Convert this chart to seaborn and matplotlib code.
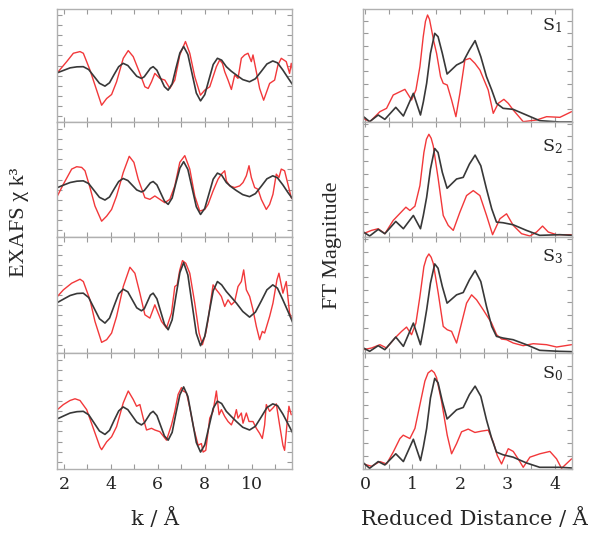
import matplotlib
matplotlib.use("Agg")
import matplotlib.pyplot as plt
from matplotlib.ticker import MultipleLocator
import seaborn as sns

# ---------------- data ----------------
samples = ["S$_1$", "S$_2$", "S$_3$", "S$_0$"]

# EXAFS chi(k)k^3, fit (black) sampled on a common k grid
k_fit = [1.72, 2.0, 2.26, 2.55, 2.82, 3.05, 3.28, 3.51, 3.745, 3.94, 4.13, 4.33, 4.52,
         4.72, 4.91, 5.10, 5.30, 5.42, 5.55, 5.68, 5.80, 5.96, 6.12, 6.28, 6.44, 6.61,
         6.77, 6.94, 7.10, 7.28, 7.46, 7.64, 7.82, 8.0, 8.18, 8.36, 8.54, 8.72, 8.92,
         9.13, 9.35, 9.62, 9.91, 10.16, 10.41, 10.65, 10.90, 11.1, 11.33, 11.55, 11.76]
chi_fit_s1 = [-0.215, -0.14, -0.07, -0.04, -0.035, -0.12, -0.325, -0.53, -0.615, -0.515, -0.275,
              -0.035, 0.065, 0.0, -0.16, -0.32, -0.385, -0.335, -0.21, -0.085, -0.035, -0.14,
              -0.385, -0.63, -0.735, -0.545, -0.085, 0.375, 0.565, 0.33, -0.245, -0.82, -1.055,
              -0.87, -0.42, 0.03, 0.215, 0.16, -0.035, -0.17, -0.285, -0.42, -0.485, -0.395,
              -0.175, 0.045, 0.135, 0.08, -0.135, -0.37, -0.585]
chi_fit_s2 = [-0.24, -0.16, -0.09, -0.05, -0.04, -0.12, -0.325, -0.53, -0.61, -0.52, -0.29,
              -0.06, 0.03, -0.03, -0.17, -0.31, -0.37, -0.33, -0.215, -0.10, -0.06, -0.16,
              -0.40, -0.64, -0.74, -0.55, -0.105, 0.34, 0.53, 0.30, -0.255, -0.81, -1.04,
              -0.86, -0.425, 0.01, 0.19, 0.13, -0.09, -0.22, -0.33, -0.45, -0.51, -0.42,
              -0.20, 0.02, 0.11, 0.05, -0.16, -0.39, -0.59]
chi_fit_s3 = [-0.23, -0.12, -0.02, 0.04, 0.05, -0.08, -0.40, -0.72, -0.85, -0.70, -0.34,
              0.03, 0.17, 0.09, -0.15, -0.39, -0.48, -0.42, -0.215, -0.01, 0.05, -0.12,
              -0.50, -0.88, -1.05, -0.75, -0.04, 0.67, 0.97, 0.60, -0.28, -1.16, -1.53,
              -1.25, -0.565, 0.12, 0.40, 0.30, 0.10, -0.07, -0.25, -0.50, -0.67, -0.52,
              -0.185, 0.15, 0.30, 0.20, -0.15, -0.50, -0.85]
chi_fit_s0 = [-0.23, -0.14, -0.06, -0.02, -0.01, -0.11, -0.35, -0.59, -0.69, -0.57, -0.285,
              0.0, 0.12, 0.04, -0.145, -0.33, -0.41, -0.35, -0.21, -0.07, -0.01, -0.135,
              -0.435, -0.735, -0.86, -0.63, -0.075, 0.48, 0.71, 0.43, -0.25, -0.93, -1.21,
              -1.0, -0.46, 0.08, 0.29, 0.22, -0.01, -0.16, -0.31, -0.48, -0.56, -0.45,
              -0.175, 0.10, 0.21, 0.16, -0.09, -0.38, -0.66]

# EXAFS experimental (red)
k_exp_s1 = [1.716, 2.113, 2.397, 2.681, 2.823, 3.106, 3.319, 3.603, 3.816, 4.028, 4.241, 4.525,
            4.738, 4.950, 5.234, 5.447, 5.589, 5.730, 5.872, 6.085, 6.298, 6.511, 6.723, 6.936,
            7.177, 7.362, 7.574, 7.816, 8.000, 8.213, 8.355, 8.496, 8.638, 8.752, 8.851, 8.993,
            9.135, 9.277, 9.418, 9.560, 9.702, 9.844, 9.986, 10.057, 10.199, 10.340, 10.511,
            10.766, 10.979, 11.121, 11.262, 11.475, 11.617, 11.688, 11.759]
chi_exp_s1 = [-0.215, 0.115, 0.365, 0.415, 0.365, -0.135, -0.585, -1.185, -0.985, -0.865, -0.485,
              0.215, 0.445, 0.265, -0.235, -0.635, -0.685, -0.485, -0.235, -0.385, -0.435, -0.685,
              -0.435, 0.315, 0.715, 0.365, -0.335, -0.885, -0.735, -0.635, -0.335, -0.035, 0.165,
              0.065, -0.185, -0.435, -0.715, -0.285, -0.385, 0.215, 0.315, 0.365, 0.115, 0.315,
              -0.185, -0.685, -1.035, -0.535, -0.435, 0.015, 0.215, 0.115, -0.235, 0.065, -0.185]
k_exp_s2 = [1.716, 1.972, 2.326, 2.539, 2.752, 2.894, 3.106, 3.319, 3.603, 3.816, 4.028, 4.241,
            4.525, 4.780, 4.979, 5.163, 5.447, 5.660, 5.872, 6.085, 6.298, 6.511, 6.723, 6.936,
            7.149, 7.362, 7.574, 7.787, 8.000, 8.142, 8.355, 8.567, 8.709, 8.851, 8.922, 9.064,
            9.277, 9.489, 9.631, 9.773, 9.887, 9.986, 10.128, 10.270, 10.411, 10.624, 10.766,
            10.908, 11.050, 11.163, 11.262, 11.404, 11.546, 11.688, 11.759]
chi_exp_s2 = [-0.49, -0.14, 0.31, 0.38, 0.36, 0.26, -0.24, -0.79, -1.24, -1.09, -0.89, -0.49,
              0.21, 0.69, 0.51, 0.01, -0.54, -0.59, -0.49, -0.59, -0.69, -0.59, -0.19, 0.51,
              0.71, 0.31, -0.49, -0.94, -0.89, -0.74, -0.34, 0.01, 0.16, 0.26, -0.04, -0.19,
              -0.24, -0.19, -0.09, 0.11, 0.41, 0.06, -0.24, -0.29, -0.59, -0.89, -0.74, -0.44,
              0.16, 0.06, 0.31, 0.26, -0.14, -0.54, -0.59]
k_exp_s3 = [1.716, 1.972, 2.326, 2.681, 2.823, 3.106, 3.319, 3.603, 3.816, 4.028, 4.241, 4.525,
            4.809, 5.021, 5.234, 5.447, 5.660, 5.872, 6.014, 6.156, 6.369, 6.582, 6.723, 6.823,
            6.936, 7.050, 7.191, 7.362, 7.574, 7.759, 7.901, 8.043, 8.142, 8.241, 8.355, 8.496,
            8.610, 8.709, 8.851, 8.993, 9.135, 9.277, 9.418, 9.560, 9.660, 9.773, 9.915, 10.057,
            10.199, 10.340, 10.454, 10.553, 10.766, 10.908, 11.078, 11.163, 11.333, 11.475,
            11.617, 11.759]
chi_exp_s3 = [-0.05, 0.15, 0.35, 0.47, 0.40, -0.15, -0.80, -1.43, -1.35, -1.15, -0.65, 0.25,
              0.83, 0.65, 0.05, -0.60, -0.70, -0.30, -0.55, -0.80, -1.00, -0.55, 0.25, 0.30,
              0.75, 1.03, 0.95, 0.65, -0.25, -1.15, -1.50, -1.15, -0.75, -0.25, 0.30, 0.15,
              0.05, -0.05, -0.35, -0.15, -0.30, -0.20, 0.25, 0.40, 0.75, 0.15, -0.05, -0.45,
              -0.95, -1.35, -1.10, -1.15, -0.65, -0.25, 0.45, 0.65, 0.05, 0.40, -0.55, -0.80]
k_exp_s0 = [1.716, 1.972, 2.255, 2.468, 2.681, 2.965, 3.248, 3.532, 3.603, 3.816, 4.028, 4.241,
            4.525, 4.738, 4.950, 5.092, 5.234, 5.376, 5.518, 5.730, 5.872, 6.085, 6.369, 6.582,
            6.723, 6.865, 7.007, 7.078, 7.220, 7.362, 7.532, 7.716, 7.858, 7.929, 8.043, 8.213,
            8.355, 8.496, 8.610, 8.709, 8.851, 8.993, 9.135, 9.277, 9.348, 9.418, 9.560, 9.631,
            9.773, 9.887, 10.057, 10.199, 10.340, 10.454, 10.553, 10.624, 10.766, 10.908,
            11.050, 11.191, 11.333, 11.404, 11.504, 11.589, 11.688]
chi_exp_s0 = [0.04, 0.19, 0.31, 0.36, 0.31, 0.04, -0.51, -1.06, -1.14, -0.91, -0.76, -0.46,
              0.24, 0.59, 0.34, 0.14, 0.19, -0.21, -0.56, -0.51, -0.56, -0.61, -0.86, -0.41,
              -0.01, 0.49, 0.69, 0.59, 0.54, 0.09, -0.51, -1.01, -0.96, -1.21, -1.16, -0.21,
              -0.01, 0.59, -0.11, 0.04, -0.16, -0.31, -0.41, -0.16, 0.04, -0.21, -0.06, -0.36,
              -0.06, -0.31, -0.31, -0.51, -0.66, -0.81, -0.41, 0.19, -0.01, 0.09, 0.21, -0.41,
              -1.01, -1.16, -0.41, 0.14, -0.11]

# FT magnitude, fit (black) on a common R grid
r_fit = [-0.03, 0.10, 0.28, 0.42, 0.65, 0.81, 1.02, 1.17, 1.23, 1.30, 1.38, 1.47, 1.54, 1.63,
         1.73, 1.93, 2.07, 2.20, 2.32, 2.44, 2.56, 2.67, 2.77, 2.91, 3.12, 3.40, 3.68, 4.10, 4.36]
ft_fit_s1 = [0.16, 0.01, 0.21, 0.08, 0.44, 0.18, 0.86, 0.21, 0.60, 1.16, 2.06, 2.66, 2.56, 2.06,
             1.44, 1.71, 1.81, 2.16, 2.44, 1.96, 1.36, 0.96, 0.56, 0.41, 0.38, 0.21, 0.04, 0.0, 0.0]
ft_fit_s2 = [0.15, 0.03, 0.23, 0.10, 0.47, 0.25, 0.65, 0.25, 0.65, 1.20, 2.05, 2.67, 2.55, 1.95,
             1.47, 1.75, 1.80, 2.20, 2.47, 2.15, 1.45, 0.85, 0.45, 0.43, 0.37, 0.20, 0.05, 0.07, 0.05]
ft_fit_s3 = [0.15, 0.05, 0.22, 0.10, 0.48, 0.20, 0.90, 0.25, 0.70, 1.30, 2.10, 2.68, 2.55, 2.00,
             1.50, 1.75, 1.82, 2.20, 2.48, 2.15, 1.40, 0.80, 0.50, 0.45, 0.40, 0.25, 0.08, 0.05, 0.04]
ft_fit_s0 = [0.18, 0.02, 0.22, 0.12, 0.45, 0.22, 0.88, 0.25, 0.65, 1.20, 2.10, 2.68, 2.55, 2.00,
             1.48, 1.75, 1.82, 2.20, 2.45, 2.15, 1.45, 0.90, 0.50, 0.42, 0.35, 0.18, 0.05, 0.05, 0.03]

# FT magnitude, experimental (red)
r_exp_s1 = [-0.035, 0.105, 0.316, 0.456, 0.596, 0.842, 0.982, 1.074, 1.158, 1.228, 1.275, 1.319,
            1.36, 1.404, 1.45, 1.509, 1.593, 1.649, 1.733, 1.825, 1.916, 2.0, 2.105, 2.211, 2.316,
            2.421, 2.596, 2.702, 2.807, 2.926, 3.018, 3.123, 3.333, 3.614, 3.825, 4.105, 4.351]
ft_exp_s1 = [0.11, 0.01, 0.31, 0.41, 0.81, 0.98, 0.66, 0.96, 1.66, 2.56, 3.02, 3.21, 3.08, 2.76,
             2.42, 2.06, 1.36, 1.16, 1.11, 0.66, 0.16, 0.86, 1.86, 1.91, 1.76, 1.56, 0.96, 0.26,
             0.56, 0.68, 0.56, 0.36, 0.01, 0.06, 0.16, 0.14, 0.31]
r_exp_s2 = [-0.035, 0.14, 0.281, 0.421, 0.596, 0.863, 0.947, 1.053, 1.158, 1.242, 1.295, 1.347,
            1.395, 1.439, 1.544, 1.649, 1.754, 1.860, 2.0, 2.140, 2.281, 2.421, 2.561, 2.688,
            2.842, 2.982, 3.123, 3.298, 3.474, 3.614, 3.740, 3.860, 4.035, 4.351]
ft_exp_s2 = [0.10, 0.20, 0.25, 0.10, 0.50, 0.90, 0.80, 0.93, 1.55, 2.55, 2.95, 3.10, 2.98, 2.75,
             1.75, 0.65, 0.35, 0.20, 0.75, 1.25, 1.40, 1.25, 0.65, 0.07, 0.55, 0.70, 0.35, 0.10,
             0.03, 0.15, 0.33, 0.15, 0.07, 0.07]
r_exp_s3 = [-0.035, 0.14, 0.316, 0.456, 0.632, 0.772, 0.877, 0.982, 1.074, 1.158, 1.242, 1.295,
            1.347, 1.395, 1.439, 1.544, 1.649, 1.733, 1.825, 1.930, 2.035, 2.140, 2.246, 2.351,
            2.491, 2.667, 2.772, 2.877, 2.982, 3.123, 3.333, 3.544, 3.825, 4.035, 4.351]
ft_exp_s3 = [0.10, 0.15, 0.25, 0.15, 0.45, 0.65, 0.78, 0.55, 0.90, 1.70, 2.60, 2.86, 2.98, 2.88,
             2.70, 1.80, 0.80, 0.70, 0.65, 0.30, 0.90, 1.50, 1.75, 1.60, 1.30, 0.90, 0.55, 0.42,
             0.40, 0.30, 0.22, 0.28, 0.25, 0.18, 0.25]
r_exp_s0 = [-0.035, 0.14, 0.316, 0.456, 0.596, 0.737, 0.807, 0.947, 1.053, 1.158, 1.263, 1.33,
            1.404, 1.46, 1.509, 1.614, 1.733, 1.825, 1.930, 2.035, 2.175, 2.316, 2.456, 2.596,
            2.702, 2.786, 2.877, 3.018, 3.123, 3.249, 3.333, 3.474, 3.684, 3.895, 4.035, 4.140,
            4.351]
ft_exp_s0 = [0.15, 0.08, 0.22, 0.15, 0.50, 0.90, 1.00, 0.90, 1.20, 1.90, 2.60, 2.84, 2.92, 2.85,
             2.70, 2.00, 1.00, 0.45, 0.75, 1.10, 1.18, 1.08, 1.12, 1.15, 0.80, 0.40, 0.15, 0.60,
             0.52, 0.25, 0.05, 0.35, 0.45, 0.52, 0.30, 0.02, 0.30]

chi_fits = [chi_fit_s1, chi_fit_s2, chi_fit_s3, chi_fit_s0]
k_exps = [k_exp_s1, k_exp_s2, k_exp_s3, k_exp_s0]
chi_exps = [chi_exp_s1, chi_exp_s2, chi_exp_s3, chi_exp_s0]
ft_fits = [ft_fit_s1, ft_fit_s2, ft_fit_s3, ft_fit_s0]
r_exps = [r_exp_s1, r_exp_s2, r_exp_s3, r_exp_s0]
ft_exps = [ft_exp_s1, ft_exp_s2, ft_exp_s3, ft_exp_s0]

# ---------------- style ----------------
sns.set_style("ticks")
plt.rcParams["font.family"] = ["DejaVu Serif", "DejaVu Sans"]
plt.rcParams["mathtext.default"] = "regular"

RED = "#f2383a"
BLACK = "#383838"
FRAME = "#b0b0b0"

fig = plt.figure(figsize=(6.01, 5.38), dpi=100)
W, H = 601, 538

# panel rows in pixels (top, bottom)
rows = [(9, 122), (122, 237), (237, 353), (353, 469)]
chi_lims = [(-1.685, 1.685), (-1.71, 1.71), (-1.75, 1.74), (-1.71, 1.71)]
ft_lims = [(0, 3.39), (0, 3.47), (0, 3.49), (0, 3.43)]
label_y = [0.85, 0.79, 0.83, 0.82]


def add_panel(x0, x1, y0, y1):
    return fig.add_axes([x0 / W, 1 - y1 / H, (x1 - x0) / W, (y1 - y0) / H])


def style_axis(ax, bottom):
    for sp in ax.spines.values():
        sp.set_color(FRAME)
        sp.set_linewidth(1.0)
    ax.tick_params(which="both", direction="in", top=True, right=True, left=True, bottom=True,
                   color="#9a9a9a", length=3.5, width=0.8, labelsize=12.5, pad=5)
    ax.tick_params(axis="y", labelleft=False)
    if not bottom:
        ax.tick_params(axis="x", labelbottom=False)
    ax.set_xlabel("")
    ax.set_ylabel("")


for i in range(4):
    y0, y1 = rows[i]
    bottom = i == 3

    # EXAFS panel
    ax = add_panel(57, 292, y0, y1)
    sns.lineplot(x=k_exps[i], y=chi_exps[i], ax=ax, color=RED, lw=1.0, estimator=None)
    sns.lineplot(x=k_fit, y=chi_fits[i], ax=ax, color=BLACK, lw=1.2, estimator=None)
    ax.set_xlim(1.7, 11.72)
    ax.set_ylim(*chi_lims[i])
    ax.xaxis.set_major_locator(MultipleLocator(2))
    ax.xaxis.set_minor_locator(MultipleLocator(1))
    ax.yaxis.set_major_locator(MultipleLocator(0.3))
    style_axis(ax, bottom)

    # FT panel
    ax2 = add_panel(363, 572, y0, y1)
    sns.lineplot(x=r_exps[i], y=ft_exps[i], ax=ax2, color=RED, lw=1.0, estimator=None)
    sns.lineplot(x=r_fit, y=ft_fits[i], ax=ax2, color=BLACK, lw=1.2, estimator=None)
    ax2.set_xlim(-0.04, 4.36)
    ax2.set_ylim(*ft_lims[i])
    ax2.xaxis.set_major_locator(MultipleLocator(1))
    ax2.xaxis.set_minor_locator(MultipleLocator(0.5))
    ax2.yaxis.set_major_locator(MultipleLocator(0.38))
    style_axis(ax2, bottom)
    ax2.text(0.905, label_y[i], samples[i], transform=ax2.transAxes, ha="center", va="center",
             fontsize=12.5)

fig.text(0.258, 0.037, "k / Å", ha="center", va="center", fontsize=15)
fig.text(0.79, 0.037, "Reduced Distance / Å", ha="center", va="center", fontsize=15)
fig.text(0.033, 0.587, "EXAFS χ k³", rotation=90, ha="center", va="center",
         family="Liberation Serif", fontsize=16)
fig.text(0.554, 0.545, "FT Magnitude", rotation=90, ha="center", va="center",
         family="Liberation Serif", fontsize=16)

fig.savefig("out.png", dpi=100)
